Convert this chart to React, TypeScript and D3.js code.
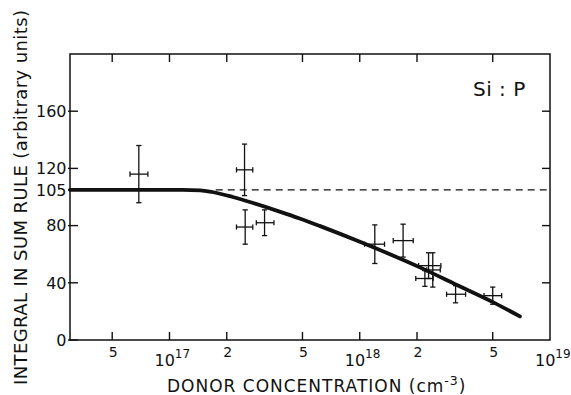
import React from "react";
import * as d3 from "d3";

// Data points (donor concentration in cm^-3, integral in arbitrary units)
const conc = [6.9e16, 2.48e17, 2.5e17, 3.16e17, 1.2e18, 1.69e18, 2.3e18, 2.42e18, 2.2e18, 3.19e18, 5.0e18];
const concLo = [6.2e16, 2.25e17, 2.25e17, 2.86e17, 1.06e18, 1.5e18, 2.04e18, 2.25e18, 1.97e18, 2.86e18, 4.5e18];
const concHi = [7.7e16, 2.74e17, 2.74e17, 3.54e17, 1.35e18, 1.91e18, 2.67e18, 2.65e18, 2.43e18, 3.6e18, 5.57e18];
const integral = [116, 119, 79, 82, 67, 69.5, 52, 49, 43, 32, 31];
const integralErr = [20, 18, 12, 9, 13.5, 11.5, 9, 12, 5.5, 6, 6];

// Fitted curve
const fitConc = [3e16, 1.17e17, 1.45e17, 1.68e17, 2.15e17, 2.64e17, 3.79e17, 4.83e17, 6.15e17, 1.04e18, 2.07e18, 3.24e18, 5.01e18, 6.95e18];
const fitIntegral = [105, 105, 104.7, 103.5, 100, 96.5, 89.8, 85, 79.8, 67.8, 50.8, 38.5, 26.5, 16.5];

// Reference level
const refLevel = 105;
const refStart = 1.75e17;

// Axes
const xDomain = [3e16, 1e19];
const yDomain = [0, 200];
const yTicks = [0, 40, 80, 105, 120, 160];
const yRightTicks = [40, 80, 120, 160];
const xMinorTicks = [5e16, 2e17, 5e17, 2e18, 5e18];
const xMinorLabels = ["5", "2", "5", "2", "5"];
const xDecadeTicks = [1e17, 1e18, 1e19];
const xDecadeExp = ["17", "18", "19"];

const W = 571;
const H = 395;
const M = { left: 70, right: 550, top: 54, bottom: 340 };
const ink = "#111";
const font = "DejaVu Sans, Liberation Sans, sans-serif";

export default function App() {
  const x = d3.scaleLog().domain(xDomain).range([M.left, M.right]);
  const y = d3.scaleLinear().domain(yDomain).range([M.bottom, M.top]);
  const tick = 8;
  const cap = 2.6;

  const line = d3
    .line<number>()
    .x((_, i) => x(fitConc[i]))
    .y((d) => y(d))
    .curve(d3.curveMonotoneX);

  const allXTicks = [...xMinorTicks, ...xDecadeTicks.slice(0, 2)];

  return (
    <svg
      width={W}
      height={H}
      style={{ position: "absolute", left: 0, top: 0, background: "#fff" }}
      fontFamily={font}
    >
      {/* frame */}
      <rect
        x={M.left}
        y={M.top}
        width={M.right - M.left}
        height={M.bottom - M.top}
        fill="none"
        stroke={ink}
        strokeWidth={1.5}
      />

      {/* x ticks bottom & top */}
      {allXTicks.map((t, i) => (
        <g key={"xt" + i}>
          <line x1={x(t)} x2={x(t)} y1={M.bottom} y2={M.bottom - tick} stroke={ink} strokeWidth={1.4} />
          <line x1={x(t)} x2={x(t)} y1={M.top} y2={M.top + tick} stroke={ink} strokeWidth={1.4} />
        </g>
      ))}

      {/* y ticks left */}
      {yTicks.map((t, i) => (
        <g key={"yt" + i}>
          <line x1={M.left - 2} x2={M.left + tick} y1={y(t)} y2={y(t)} stroke={ink} strokeWidth={1.4} />
          <text x={M.left - 3.5} y={y(t) + 5.8} textAnchor="end" fontSize={16} fill={ink}>
            {t}
          </text>
        </g>
      ))}

      {/* y ticks right */}
      {yRightTicks.map((t, i) => (
        <line key={"yr" + i} x1={M.right} x2={M.right - tick} y1={y(t)} y2={y(t)} stroke={ink} strokeWidth={1.4} />
      ))}

      {/* x minor labels */}
      {xMinorTicks.map((t, i) => (
        <text key={"xl" + i} x={x(t) + 1} y={357} textAnchor="middle" fontSize={14} fill={ink}>
          {xMinorLabels[i]}
        </text>
      ))}

      {/* x decade labels */}
      {xDecadeTicks.map((t, i) => (
        <text key={"xd" + i} x={x(t) - 15} y={365.5} fontSize={16} fill={ink}>
          10
          <tspan fontSize={12} dy={-8}>
            {xDecadeExp[i]}
          </tspan>
        </text>
      ))}

      {/* reference dashed line */}
      <line
        x1={x(refStart)}
        x2={M.right}
        y1={y(refLevel)}
        y2={y(refLevel)}
        stroke={ink}
        strokeWidth={1.2}
        strokeDasharray="7 5"
      />

      {/* fitted curve */}
      <path d={line(fitIntegral) || ""} fill="none" stroke={ink} strokeWidth={3.8} strokeLinecap="round" />

      {/* data points with error bars */}
      {conc.map((c, i) => {
        const cx = x(c);
        const cy = y(integral[i]);
        const x0 = x(concLo[i]);
        const x1 = x(concHi[i]);
        const y0 = y(integral[i] - integralErr[i]);
        const y1 = y(integral[i] + integralErr[i]);
        return (
          <g key={"p" + i} stroke={ink} strokeWidth={1.3} fill="none">
            <line x1={x0} x2={x1} y1={cy} y2={cy} />
            <line x1={cx} x2={cx} y1={y0} y2={y1} />
            <line x1={x0} x2={x0} y1={cy - cap} y2={cy + cap} />
            <line x1={x1} x2={x1} y1={cy - cap} y2={cy + cap} />
            <line x1={cx - cap} x2={cx + cap} y1={y0} y2={y0} />
            <line x1={cx - cap} x2={cx + cap} y1={y1} y2={y1} />
          </g>
        );
      })}

      {/* annotation */}
      <text x={473} y={95.5} fontSize={20} fill={ink} letterSpacing={0.5}>
        Si : P
      </text>

      {/* x axis title */}
      <text x={167} y={392} fontSize={17} fill={ink} letterSpacing={1}>
        DONOR CONCENTRATION (cm
        <tspan fontSize={12.5} dy={-7}>
          -3
        </tspan>
        <tspan dy={7}>)</tspan>
      </text>

      {/* y axis title */}
      <text
        transform={`translate(27, 385) rotate(-90)`}
        x={0}
        y={0}
        fontSize={18}
        fill={ink}
        textLength={375}
        lengthAdjust="spacing"
      >
        INTEGRAL IN SUM RULE (arbitrary units)
      </text>
    </svg>
  );
}
